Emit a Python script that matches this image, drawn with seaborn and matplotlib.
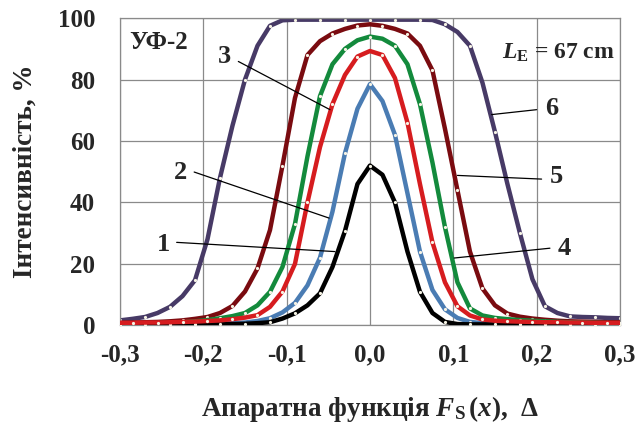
import numpy as np
import pandas as pd
import matplotlib
matplotlib.use("Agg")
import matplotlib.pyplot as plt
import seaborn as sns

# ---- data ----
x_grid = [round(-0.3 + 0.015 * i, 3) for i in range(41)]

curve1 = [0.3, 0.3, 0.3, 0.3, 0.3, 0.3, 0.3, 0.3, 0.3, 0.4, 0.5, 0.7, 1.0, 2.2, 3.9, 6.5,
          10.4, 19, 30.7, 46, 52, 49, 40, 24, 10.9, 4, 1.1, 0.4, 0.3, 0.3, 0.3, 0.3, 0.3,
          0.3, 0.3, 0.3, 0.3, 0.3, 0.3, 0.3, 0.3]
curve2 = [0.4, 0.4, 0.4, 0.4, 0.4, 0.4, 0.5, 0.5, 0.6, 0.7, 0.9, 1.4, 2.3, 4.2, 7.3, 13,
          22, 37, 56, 70.5, 78.5, 73, 62, 43, 24, 11.5, 5.2, 2.4, 1.1, 0.7, 0.6, 0.5, 0.5,
          0.5, 0.4, 0.4, 0.4, 0.4, 0.4, 0.4, 0.4]
curve3 = [0.5, 0.5, 0.6, 0.7, 0.8, 1.0, 1.3, 1.7, 2.3, 3.0, 4.0, 6.5, 10.9, 19, 33, 55,
          74.6, 85, 90, 92.8, 94, 93.3, 91, 85, 72, 53, 32, 14, 5.5, 3.2, 2.4, 2.0, 1.7,
          1.5, 1.3, 1.1, 1.0, 0.9, 0.8, 0.7, 0.7]
curve4 = [0.8, 0.8, 0.9, 0.9, 1.0, 1.1, 1.2, 1.4, 1.6, 2.0, 2.5, 3.3, 6, 11, 20, 40,
          58, 72, 81.5, 87.5, 89.3, 88, 80.5, 66, 46, 27, 14, 6.2, 3.2, 1.9, 1.5, 1.3, 1.2,
          1.1, 1.0, 1.0, 0.9, 0.9, 0.8, 0.8, 0.8]
curve5 = [0.8, 0.9, 1.0, 1.1, 1.3, 1.6, 2.1, 2.7, 4, 6.3, 11, 18.5, 31, 52, 74, 88,
          92.5, 95, 96.5, 97.6, 98, 97.5, 96.5, 95, 91, 83, 64, 44, 24, 12, 6.5, 3.8, 2.8,
          2.2, 1.8, 1.5, 1.3, 1.2, 1.1, 1.0, 1.0]
curve6 = [1.6, 2.1, 2.7, 4.0, 6.0, 9.5, 14.7, 28, 48, 65, 80, 91, 97.5, 99.3, 99.5, 99.5,
          99.5, 99.5, 99.5, 99.5, 99.5, 99.5, 99.5, 99.5, 99.5, 99.4, 98, 95.5, 91, 79, 63,
          46, 30, 15, 6.2, 4.0, 2.9, 2.7, 2.6, 2.4, 2.3]

series_names = ["1", "2", "3", "4", "5", "6"]
series_values = [curve1, curve2, curve3, curve4, curve5, curve6]
x_ticks = [-0.3, -0.2, -0.1, 0.0, 0.1, 0.2, 0.3]
x_tick_labels = ["-0,3", "-0,2", "-0,1", "0,0", "0,1", "0,2", "0,3"]
y_ticks = [0, 20, 40, 60, 80, 100]

colors = {"1": "#000000", "2": "#4a7cb3", "3": "#138a3c", "4": "#d61c1f",
          "5": "#7a0b10", "6": "#473a66"}
mark_start = {"1": 0, "2": 0, "3": 0, "4": 1, "5": 1, "6": 0}
zorders = {"1": 5, "2": 4, "3": 3, "4": 7, "5": 2, "6": 1}

# ---- style ----
sns.set_style("white")
plt.rcParams["font.family"] = ["Liberation Serif", "DejaVu Serif"]
plt.rcParams["font.weight"] = "bold"
plt.rcParams["mathtext.fontset"] = "custom"
plt.rcParams["mathtext.rm"] = "Liberation Serif:bold"
plt.rcParams["mathtext.it"] = "Liberation Serif:italic:bold"
plt.rcParams["mathtext.bf"] = "Liberation Serif:bold"

fig = plt.figure(figsize=(6.36, 4.32), dpi=100)
ax = fig.add_axes([0.1887, 0.247, 0.786, 0.711])

long_rows = []
for name, vals in zip(series_names, series_values):
    for xv, yv in zip(x_grid, vals):
        long_rows.append({"x": xv, "y": yv, "curve": name})
df = pd.DataFrame(long_rows)

for name in series_names:
    sub = df[df["curve"] == name]
    sns.lineplot(data=sub, x="x", y="y", ax=ax, color=colors[name], lw=3.2,
                 marker="o", markevery=slice(mark_start[name], None, 2), ms=2.3,
                 mfc="#f6f3e4", mec="#f6f3e4", mew=0.0, zorder=zorders[name],
                 legend=False, solid_joinstyle="round")

ax.set_xlim(-0.3, 0.3)
ax.set_ylim(0, 100)
ax.set_xticks(x_ticks)
ax.set_xticklabels(x_tick_labels)
ax.set_yticks(y_ticks)
ax.grid(True, color="#8a8a8a", lw=0.9)
for s in ax.spines.values():
    s.set_color("#8a8a8a")
    s.set_linewidth(0.9)
ax.tick_params(axis="both", length=0, labelsize=18)
ax.tick_params(axis="x", pad=13)
ax.tick_params(axis="y", pad=18)
for lab in ax.get_xticklabels() + ax.get_yticklabels():
    lab.set_fontweight("bold")

ax.set_xlabel(r"Апаратна функція $F_{\mathrm{S}}\,(x)$,  Δ", fontsize=19.5,
              fontweight="bold", labelpad=20)
ax.set_ylabel("Інтенсивність, %", fontsize=19.5, fontweight="bold", labelpad=14)

# annotations: text positions and leader lines
callouts = [
    ("1", (-0.248, 26.2), (-0.232, 27.0), (-0.042, 24.0)),
    ("2", (-0.228, 49.7), (-0.211, 49.9), (-0.049, 34.9)),
    ("3", (-0.175, 87.6), (-0.158, 85.9), (-0.048, 70.2)),
    ("4", (0.233, 25.1), (0.216, 25.1), (0.101, 21.9)),
    ("5", (0.224, 48.5), (0.206, 47.6), (0.105, 48.8)),
    ("6", (0.218, 70.7), (0.200, 70.2), (0.146, 68.6)),
]
for lab, tpos, p0, p1 in callouts:
    ax.plot([p0[0], p1[0]], [p0[1], p1[1]], color="black", lw=0.9, zorder=10)
    ax.text(tpos[0], tpos[1], lab, fontsize=19, fontweight="bold",
            ha="center", va="center", zorder=11)

ax.text(-0.254, 92, "УФ-2", fontsize=18, fontweight="bold", ha="center", va="center")
ax.text(0.226, 88.7, r"$L_{\mathrm{E}}$ = 67 cm", fontsize=17, fontweight="bold",
        ha="center", va="center")

fig.savefig("out.png", dpi=100)
